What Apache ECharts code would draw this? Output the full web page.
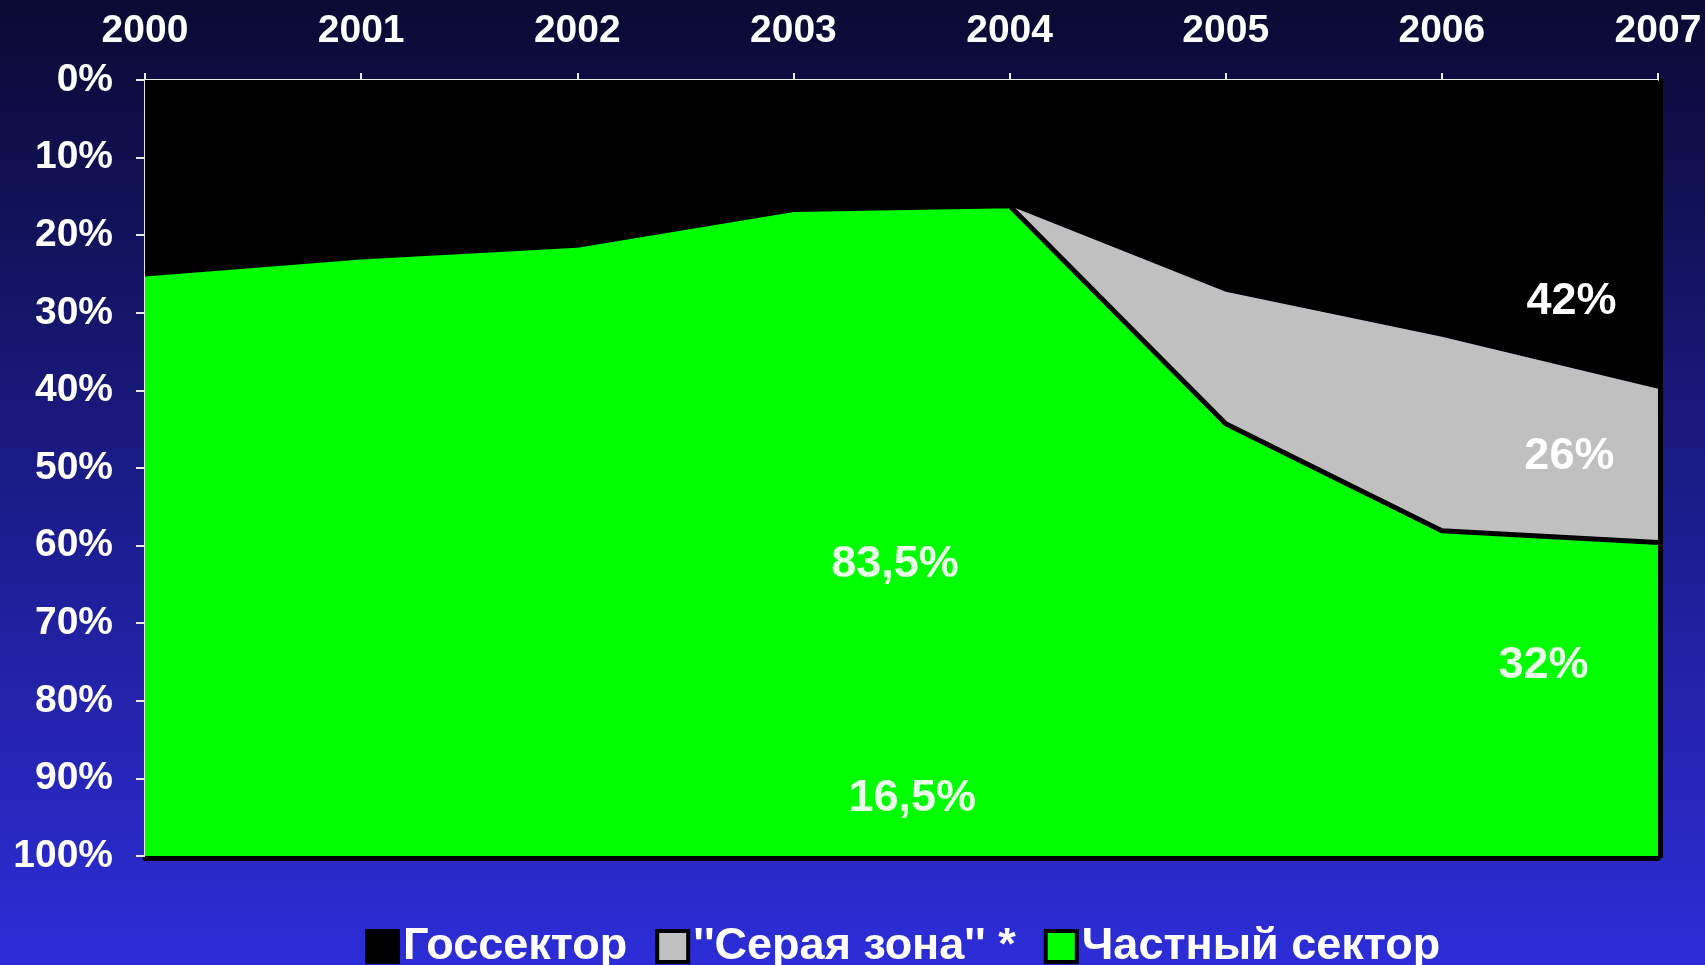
<!DOCTYPE html>
<html>
<head>
<meta charset="utf-8">
<script src="https://cdn.jsdelivr.net/npm/echarts@6/dist/echarts.min.js"></script>
<style>html,body{margin:0;padding:0;}#c{width:1705px;height:965px;}</style>
</head>
<body>
<div id="c"></div>
<script>
const years = ['2000', '2001', '2002', '2003', '2004', '2005', '2006', '2007'];
const seriesNames = ['Госсектор', "''Серая зона'' *", 'Частный сектор'];
const gosSector = [25, 22.8, 21.3, 16.7, 16.2, 27.3, 33.1, 39.8];
const grayZone = [0, 0, 0, 0, 0, 17, 25, 19.8];
const privateSector = [75, 77.2, 78.7, 83.3, 83.8, 55.7, 41.9, 40.4];
const noteTexts = ['42%', '26%', '32%', '83,5%', '16,5%'];
const noteX = [6.6, 6.59, 6.47, 3.47, 3.55];
const noteY = [28.6, 48.5, 75.5, 62.5, 92.6];
const noteColors = ['#ffffff', '#ffffff', '#eaffea', '#eaffea', '#eaffea'];

const font = 'Liberation Sans, Arial, sans-serif';

const chart = echarts.init(document.getElementById('c'));
chart.setOption({
  animation: false,
  backgroundColor: new echarts.graphic.LinearGradient(0, 0, 0, 1, [
    {offset: 0, color: '#0a0a33'},
    {offset: 0.5, color: '#1b1b88'},
    {offset: 1, color: '#2d2dd8'}
  ]),
  grid: {
    left: 145, top: 80, right: 47, bottom: 109, show: false
  },
  legend: {
    data: seriesNames,
    left: 360, top: 919,
    icon: 'rect', itemWidth: 31, itemHeight: 31, itemGap: 28,
    itemStyle: {borderColor: '#000', borderWidth: 4},
    textStyle: {color: '#fff', fontSize: 45, fontWeight: 'bold', fontFamily: font}
  },
  xAxis: [{
    type: 'category', position: 'top', data: years, boundaryGap: false,
    axisLine: {show: true, lineStyle: {color: '#e8e8e8', width: 2}},
    axisTick: {show: true, length: 7, alignWithLabel: true, lineStyle: {color: '#e8e8e8', width: 2}},
    splitLine: {show: false},
    axisLabel: {color: '#fff', fontSize: 39, fontWeight: 'bold', fontFamily: font, margin: 29, interval: 0}
  }, {
    type: 'value', min: 0, max: years.length - 1, show: false
  }, {
    type: 'category', position: 'bottom', data: years, boundaryGap: false, offset: 2,
    axisLine: {show: true, lineStyle: {color: '#000', width: 5}},
    axisTick: {show: false}, axisLabel: {show: false}, splitLine: {show: false}
  }],
  yAxis: [{
    type: 'value', inverse: true, min: 0, max: 100, interval: 10,
    axisLine: {show: true, lineStyle: {color: '#e8e8e8', width: 2}},
    axisTick: {show: true, length: 9, lineStyle: {color: '#e8e8e8', width: 2}},
    splitLine: {show: false},
    axisLabel: {color: '#fff', fontSize: 39, fontWeight: 'bold', fontFamily: font, margin: 32,
      formatter: '{value}%'}
  }, {
    type: 'value', inverse: true, min: 0, max: 100, interval: 10, position: 'right', offset: 2,
    axisLine: {show: true, lineStyle: {color: '#000', width: 5}},
    axisTick: {show: false}, axisLabel: {show: false}, splitLine: {show: false}
  }],
  series: [
    {name: seriesNames[0], type: 'line', stack: 'total', data: gosSector,
      symbol: 'none', itemStyle: {color: '#000'}, lineStyle: {width: 0},
      areaStyle: {color: '#000', opacity: 1}, z: 2},
    {name: seriesNames[1], type: 'line', stack: 'total', data: grayZone,
      symbol: 'none', itemStyle: {color: '#c0c0c0'}, lineStyle: {width: 5, color: '#000'},
      areaStyle: {color: '#c0c0c0', opacity: 1}, z: 4},
    {name: seriesNames[2], type: 'line', stack: 'total', data: privateSector,
      symbol: 'none', itemStyle: {color: '#00ff00'}, lineStyle: {width: 0},
      areaStyle: {color: '#00ff00', opacity: 1}, z: 3},
    {type: 'scatter', xAxisIndex: 1, symbolSize: 1, z: 10, silent: true,
      itemStyle: {opacity: 0},
      data: noteTexts.map((t, i) => ({name: t, value: [noteX[i], noteY[i]],
        label: {color: noteColors[i]}})),
      label: {show: true, position: 'inside', formatter: p => p.name, opacity: 1,
        textBorderWidth: 0, textShadowBlur: 0,
        fontSize: 45, fontWeight: 'bold', fontFamily: font}}
  ]
});
</script>
</body>
</html>
